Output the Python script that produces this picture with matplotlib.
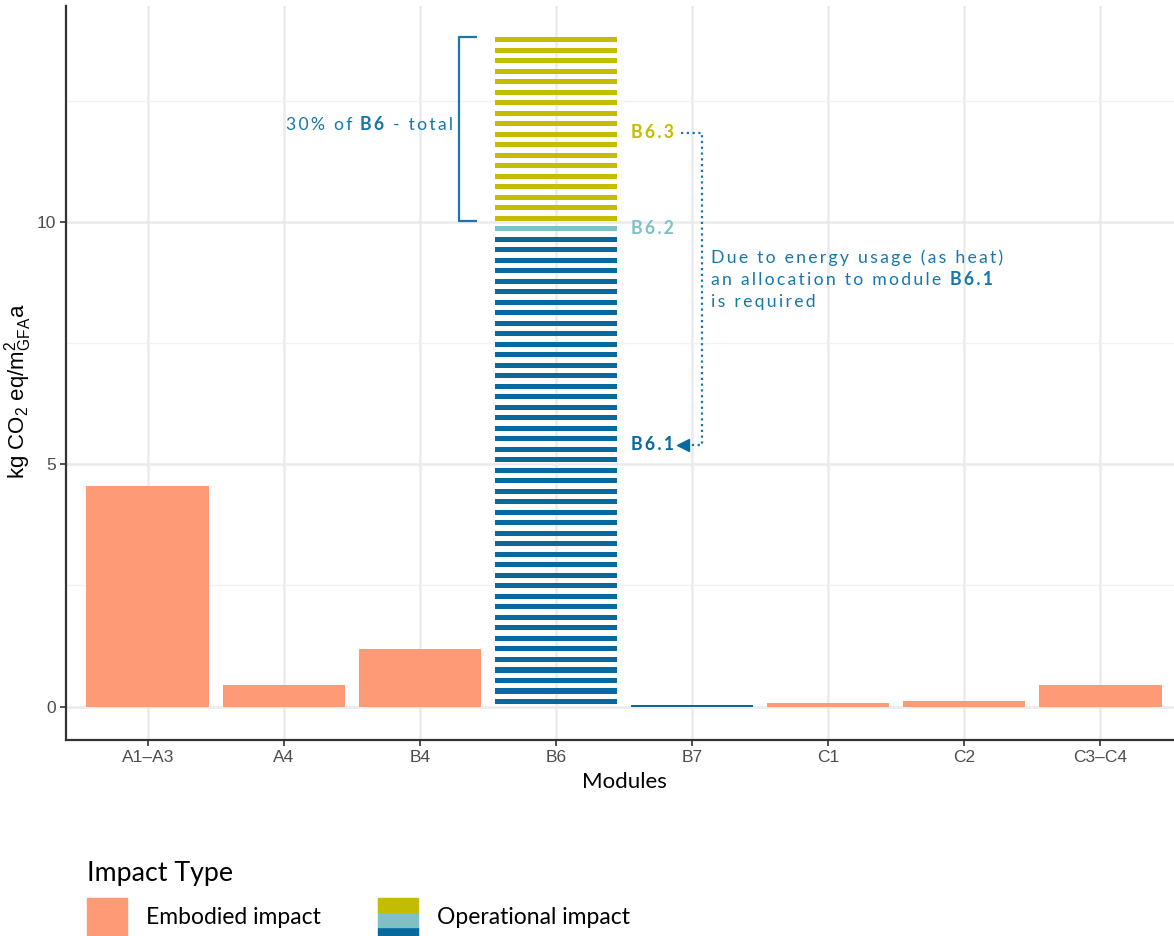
import matplotlib
matplotlib.use("Agg")
import matplotlib.pyplot as plt
from matplotlib.patches import Rectangle

# Data
modules = ["A1–A3", "A4", "B4", "B6", "B7", "C1", "C2", "C3–C4"]
embodied = [4.55, 0.45, 1.18, 0.0, 0.0, 0.08, 0.12, 0.45]
operational_b7 = 0.04

# B6 is drawn as a stack of equal stripes split into sub modules
b6_parts = ["B6.1", "B6.2", "B6.3"]
b6_stripes = [45, 1, 18]
stripe_value = 0.2166

# Colours
c_emb = "#FF9A77"
c_b61 = "#07699E"
c_b62 = "#7FC0C4"
c_b63 = "#C4BC00"
c_txt = "#1677AC"
part_colors = [c_b61, c_b62, c_b63]

plt.rcParams["font.family"] = "Lato"
plt.rcParams["mathtext.default"] = "regular"
ANN = ["Lato", "DejaVu Sans"]
ANN_SIZE = 12.7


def tracked(s):
    # mimic the loose letter spacing of the annotation font
    return "\u200a\u200a".join(s)


def rich(ax, x, y, pieces, color, size=ANN_SIZE, ha="left"):
    # pieces: list of (text, weight); words joined with a fixed gap
    gap = 6.0
    order = pieces if ha == "left" else pieces[::-1]
    prev = None
    for txt, wt in order:
        if prev is None:
            prev = ax.text(x, y, tracked(txt), color=color, fontsize=size,
                           fontweight=wt, ha=ha, va="center", family=ANN)
        else:
            if ha == "left":
                xy, off = (1, 0.5), (gap, 0)
            else:
                xy, off = (0, 0.5), (-gap, 0)
            prev = ax.annotate(tracked(txt), xy=xy, xycoords=prev, xytext=off,
                               textcoords="offset points", color=color,
                               fontsize=size, fontweight=wt, ha=ha, va="center",
                               family=ANN)
    return prev


fig = plt.figure(figsize=(11.74, 9.36), dpi=100)
W, H = 1174, 936
ax = fig.add_axes([66 / W, 1 - 740 / H, 1116 / W, 734 / H])

x = list(range(len(modules)))
ax.bar(x, embodied, width=0.9, color=c_emb, zorder=2)
ax.bar(modules.index("B7"), operational_b7, width=0.9, color=c_b61, zorder=2)

# striped B6 bar
i_b6 = modules.index("B6")
gap = 0.105
cum = 0.0
part_bounds = []
for name, n, col in zip(b6_parts, b6_stripes, part_colors):
    start = cum
    for k in range(n):
        ax.bar(i_b6, stripe_value - gap, bottom=cum + gap / 2, width=0.9,
               color=col, zorder=2)
        cum += stripe_value
    part_bounds.append((start, cum))

ax.set_xlim(-0.6, len(modules) - 0.4)
ax.set_ylim(-0.69, 14.45)
ax.set_xticks(x)
ax.set_xticklabels(modules)
ax.set_yticks([0, 5, 10])
ax.set_yticks([2.5, 7.5, 12.5], minor=True)
ax.tick_params(axis="both", which="major", length=4, width=1.2, color="#333333",
               labelsize=12.5, labelcolor="#4D4D4D")
ax.tick_params(axis="y", which="minor", length=0)
for lab in ax.get_xticklabels() + ax.get_yticklabels():
    lab.set_family("Liberation Sans")
ax.grid(which="major", color="#EBEBEB", lw=1.8, zorder=0)
ax.grid(which="minor", axis="y", color="#F2F2F2", lw=1.0, zorder=0)
ax.set_axisbelow(True)
for s in ["top", "right"]:
    ax.spines[s].set_visible(False)
for s in ["left", "bottom"]:
    ax.spines[s].set_color("#333333")
    ax.spines[s].set_linewidth(1.6)

ax.set_xlabel("Modules", fontsize=16, labelpad=5)
ax.set_ylabel("kg CO$_2$ eq/m$^2_{GFA}$a", fontsize=16, family="Liberation Sans")
ax.yaxis.set_label_coords(-0.029, 0.475)

# bracket marking B6.3 share
top6 = part_bounds[2][1] - gap / 2
bot6 = part_bounds[2][0] + gap / 2
ax.plot([2.42, 2.287, 2.287, 2.42], [top6, top6, bot6, bot6], color=c_txt,
        lw=1.6, solid_capstyle="butt", zorder=3)
rich(ax, 2.243, 12.0, [("30% of", "normal"), ("B6", "bold"), ("- total", "normal")],
     c_txt, ha="right")

# sub module labels
lab_x = 3.55
for name, yy, col in zip(b6_parts, [5.40, 9.86, 11.84], part_colors):
    ax.text(lab_x, yy, tracked(name), color=col, fontsize=ANN_SIZE,
            fontweight="bold", va="center", family=ANN)

# dotted allocation arrow
ax.plot([3.92, 4.074, 4.074, 3.97], [11.84, 11.84, 5.40, 5.40], color=c_txt,
        lw=1.6, linestyle=(0, (1, 1.6)), zorder=3)
ax.plot([3.93], [5.40], marker="<", markersize=9, color=c_b61, zorder=3)

rich(ax, 4.14, 9.26, [("Due to energy usage (as heat)", "normal")], c_txt)
rich(ax, 4.14, 8.80, [("an allocation to module", "normal"), ("B6.1", "bold")], c_txt)
rich(ax, 4.14, 8.35, [("is required", "normal")], c_txt)

# legend drawn below the axes
fig.text(87 / W, 1 - 873 / H, "Impact Type", fontsize=19.3, va="center")
fig.add_artist(Rectangle((87 / W, 1 - 941 / H), 40 / W, 43 / H,
                         transform=fig.transFigure, color=c_emb))
fig.text(146 / W, 1 - 917 / H, "Embodied impact", fontsize=16.5, va="center")
for j, col in enumerate([c_b61, c_b62, c_b63]):
    fig.add_artist(Rectangle((378 / W, 1 - (941 - 14.3 * j) / H), 40 / W, 14.3 / H,
                             transform=fig.transFigure, color=col))
fig.text(437 / W, 1 - 917 / H, "Operational impact", fontsize=16.5, va="center")

fig.savefig("out.png", dpi=100)
